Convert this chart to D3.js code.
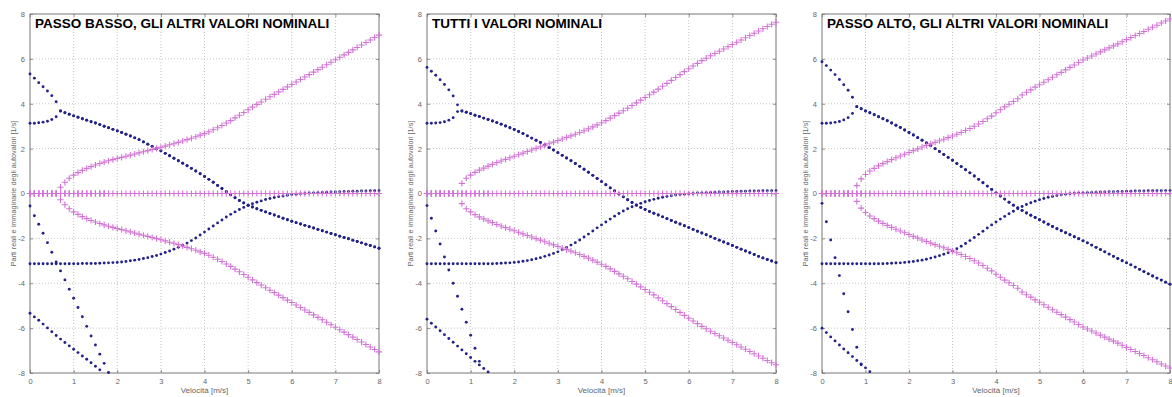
<!DOCTYPE html>
<html>
<head>
<meta charset="utf-8">
<script src="https://cdn.jsdelivr.net/npm/d3@7"></script>
<style>
  html, body { margin: 0; padding: 0; background: #fff; }
  svg { display: block; }
</style>
</head>
<body>
<svg id="chart" width="1172" height="397"></svg>
<script>
// Eigenvalues of the bicycle model vs forward speed (0.1 m/s steps)
const xTicks = [0, 1, 2, 3, 4, 5, 6, 7, 8];
const yTicks = [-8, -6, -4, -2, 0, 2, 4, 6, 8];
const xLabel = "Velocità [m/s]";
const yLabel = "Parti reali e immaginarie degli autovalori [1/s]";
const titles = [
  "PASSO BASSO, GLI ALTRI VALORI NOMINALI",
  "TUTTI I VALORI NOMINALI",
  "PASSO ALTO, GLI ALTRI VALORI NOMINALI"
];

// ---- Passo basso ----
const bassoWeaveHi = [5.33, 5.14, 4.94, 4.76, 4.57, 4.36, 4.09];
const bassoWeaveLo = [3.13, 3.13, 3.15, 3.18, 3.22, 3.30, 3.42];
const bassoWeaveStart = 0.7;
const bassoWeaveRe = [3.68, 3.60, 3.53, 3.46, 3.40, 3.33, 3.27, 3.20, 3.14, 3.07,
  3.00, 2.93, 2.86, 2.79, 2.72, 2.64, 2.56, 2.48, 2.40, 2.30,
  2.20, 2.10, 2.00, 1.90, 1.79, 1.68, 1.57, 1.46, 1.35, 1.24,
  1.12, 1.00, 0.88, 0.76, 0.63, 0.50, 0.36, 0.22, 0.08, -0.06,
  -0.19, -0.31, -0.42, -0.52, -0.60, -0.68, -0.75, -0.82, -0.89, -0.96,
  -1.03, -1.10, -1.17, -1.24, -1.30, -1.36, -1.42, -1.48, -1.54, -1.60,
  -1.66, -1.72, -1.78, -1.84, -1.90, -1.96, -2.02, -2.08, -2.14, -2.20,
  -2.26, -2.32, -2.38, -2.44];
const bassoWeaveIm = [0.28, 0.50, 0.68, 0.82, 0.93, 1.03, 1.12, 1.20, 1.27, 1.34,
  1.40, 1.46, 1.51, 1.56, 1.61, 1.66, 1.71, 1.76, 1.81, 1.86,
  1.91, 1.96, 2.01, 2.06, 2.11, 2.17, 2.22, 2.28, 2.34, 2.40,
  2.46, 2.53, 2.60, 2.67, 2.75, 2.84, 2.93, 3.03, 3.14, 3.25,
  3.37, 3.49, 3.61, 3.73, 3.85, 3.97, 4.08, 4.20, 4.31, 4.42,
  4.53, 4.64, 4.75, 4.86, 4.97, 5.08, 5.19, 5.30, 5.41, 5.52,
  5.63, 5.74, 5.85, 5.96, 6.07, 6.18, 6.29, 6.40, 6.51, 6.62,
  6.73, 6.84, 6.95, 7.06];
const bassoCapsize = [-3.13, -3.13, -3.13, -3.13, -3.13, -3.13, -3.13, -3.13, -3.13, -3.13,
  -3.13, -3.13, -3.12, -3.12, -3.12, -3.12, -3.11, -3.10, -3.09, -3.08,
  -3.07, -3.05, -3.03, -3.00, -2.97, -2.94, -2.90, -2.86, -2.81, -2.76,
  -2.70, -2.63, -2.56, -2.48, -2.40, -2.31, -2.21, -2.10, -1.98, -1.85,
  -1.72, -1.58, -1.45, -1.31, -1.18, -1.05, -0.93, -0.82, -0.71, -0.62,
  -0.54, -0.46, -0.39, -0.33, -0.27, -0.22, -0.18, -0.14, -0.11, -0.08,
  -0.05, -0.03, -0.01, 0.00, 0.02, 0.03, 0.04, 0.05, 0.06, 0.07,
  0.07, 0.08, 0.09, 0.09, 0.10, 0.10, 0.11, 0.11, 0.12, 0.12, 0.12];
const bassoCastor = [-5.34, -5.50, -5.65, -5.82, -5.99, -6.16, -6.33, -6.49, -6.64, -6.79,
  -6.94, -7.09, -7.24, -7.39, -7.54, -7.70, -7.86, -8.02];
const bassoFast = [-0.56, -0.99, -1.37, -1.77, -2.19, -2.62, -3.05, -3.45, -3.85, -4.27,
  -4.67, -5.08, -5.49, -5.92, -6.35, -6.75, -7.16, -7.57, -7.98];

// ---- Tutti i valori nominali ----
const nomWeaveHi = [5.62, 5.45, 5.27, 5.07, 4.86, 4.62, 4.35, 3.95];
const nomWeaveLo = [3.13, 3.13, 3.14, 3.16, 3.20, 3.27, 3.38, 3.65];
const nomWeaveStart = 0.8;
const nomWeaveRe = [3.68, 3.62, 3.56, 3.49, 3.43, 3.36, 3.30, 3.23, 3.16, 3.09,
  3.01, 2.93, 2.85, 2.76, 2.67, 2.57, 2.47, 2.37, 2.27, 2.16,
  2.05, 1.94, 1.82, 1.70, 1.58, 1.46, 1.34, 1.21, 1.08, 0.95,
  0.81, 0.67, 0.53, 0.39, 0.25, 0.11, -0.02, -0.15, -0.28, -0.40,
  -0.52, -0.62, -0.71, -0.80, -0.88, -0.96, -1.04, -1.12, -1.20, -1.28,
  -1.36, -1.44, -1.52, -1.60, -1.68, -1.76, -1.84, -1.92, -2.00, -2.08,
  -2.16, -2.24, -2.32, -2.40, -2.48, -2.56, -2.64, -2.72, -2.80, -2.87,
  -2.94, -3.01, -3.08];
const nomWeaveIm = [0.45, 0.68, 0.82, 0.94, 1.04, 1.13, 1.22, 1.30, 1.38, 1.45,
  1.52, 1.59, 1.66, 1.73, 1.80, 1.87, 1.94, 2.01, 2.08, 2.15,
  2.22, 2.29, 2.36, 2.43, 2.50, 2.57, 2.64, 2.72, 2.80, 2.88,
  2.97, 3.06, 3.15, 3.25, 3.36, 3.47, 3.58, 3.69, 3.80, 3.92,
  4.04, 4.16, 4.28, 4.40, 4.52, 4.65, 4.78, 4.91, 5.04, 5.17,
  5.30, 5.43, 5.56, 5.68, 5.80, 5.92, 6.03, 6.14, 6.24, 6.34,
  6.44, 6.54, 6.64, 6.74, 6.84, 6.94, 7.04, 7.14, 7.24, 7.34,
  7.44, 7.54, 7.63];
const nomCapsize = [-3.13, -3.13, -3.13, -3.13, -3.13, -3.13, -3.13, -3.13, -3.13, -3.13,
  -3.13, -3.13, -3.13, -3.13, -3.13, -3.13, -3.12, -3.11, -3.10, -3.09,
  -3.07, -3.05, -3.02, -2.99, -2.95, -2.91, -2.86, -2.80, -2.74, -2.67,
  -2.60, -2.51, -2.41, -2.30, -2.19, -2.07, -1.94, -1.81, -1.67, -1.53,
  -1.40, -1.27, -1.14, -1.01, -0.89, -0.78, -0.68, -0.59, -0.51, -0.44,
  -0.37, -0.31, -0.26, -0.21, -0.17, -0.13, -0.10, -0.07, -0.05, -0.03,
  -0.01, 0.00, 0.02, 0.03, 0.04, 0.05, 0.06, 0.07, 0.07, 0.08,
  0.09, 0.09, 0.10, 0.10, 0.11, 0.11, 0.11, 0.12, 0.12, 0.12, 0.13];
const nomCastor = [-5.60, -5.78, -5.95, -6.12, -6.29, -6.46, -6.63, -6.80, -6.97, -7.14,
  -7.31, -7.48, -7.64, -7.80, -7.95];
const nomFast = [-0.54, -1.10, -1.67, -2.25, -2.83, -3.41, -4.00, -4.58, -5.16, -5.74,
  -6.32, -6.90, -7.48, -8.06];

// ---- Passo alto ----
const altoWeaveHi = [5.87, 5.70, 5.50, 5.30, 5.08, 4.85, 4.60, 4.29];
const altoWeaveLo = [3.13, 3.13, 3.14, 3.17, 3.21, 3.28, 3.38, 3.57];
const altoWeaveStart = 0.8;
const altoWeaveRe = [3.87, 3.78, 3.68, 3.60, 3.51, 3.42, 3.33, 3.24, 3.14, 3.04,
  2.94, 2.83, 2.72, 2.61, 2.49, 2.37, 2.25, 2.13, 2.00, 1.87,
  1.74, 1.61, 1.48, 1.34, 1.20, 1.06, 0.92, 0.78, 0.63, 0.48,
  0.33, 0.18, 0.03, -0.11, -0.25, -0.39, -0.52, -0.64, -0.76, -0.87,
  -0.97, -1.07, -1.17, -1.27, -1.37, -1.47, -1.57, -1.66, -1.75, -1.84,
  -1.93, -2.02, -2.11, -2.20, -2.30, -2.40, -2.50, -2.60, -2.70, -2.80,
  -2.90, -3.00, -3.09, -3.18, -3.28, -3.38, -3.48, -3.58, -3.68, -3.77,
  -3.86, -3.95, -4.04];
const altoWeaveIm = [0.35, 0.65, 0.85, 1.00, 1.12, 1.23, 1.33, 1.42, 1.51, 1.59,
  1.67, 1.75, 1.83, 1.91, 1.99, 2.07, 2.14, 2.21, 2.28, 2.35,
  2.42, 2.49, 2.56, 2.64, 2.72, 2.81, 2.90, 3.00, 3.10, 3.21,
  3.33, 3.45, 3.60, 3.73, 3.86, 3.98, 4.10, 4.22, 4.39, 4.51,
  4.62, 4.74, 4.85, 4.96, 5.07, 5.18, 5.29, 5.40, 5.51, 5.62,
  5.73, 5.84, 5.95, 6.04, 6.13, 6.22, 6.31, 6.40, 6.49, 6.58,
  6.67, 6.76, 6.86, 6.95, 7.04, 7.13, 7.22, 7.32, 7.41, 7.50,
  7.60, 7.69, 7.78];
const altoCapsize = [-3.13, -3.13, -3.13, -3.13, -3.13, -3.13, -3.13, -3.13, -3.13, -3.13,
  -3.13, -3.13, -3.13, -3.13, -3.13, -3.12, -3.11, -3.10, -3.09, -3.07,
  -3.05, -3.03, -3.00, -2.97, -2.93, -2.88, -2.83, -2.77, -2.71, -2.64,
  -2.56, -2.46, -2.35, -2.23, -2.10, -1.96, -1.82, -1.68, -1.54, -1.40,
  -1.27, -1.14, -1.02, -0.90, -0.79, -0.68, -0.58, -0.49, -0.41, -0.34,
  -0.28, -0.22, -0.17, -0.13, -0.09, -0.06, -0.03, -0.01, 0.01, 0.02,
  0.03, 0.04, 0.05, 0.06, 0.07, 0.07, 0.08, 0.08, 0.09, 0.09,
  0.10, 0.10, 0.11, 0.11, 0.11, 0.12, 0.12, 0.12, 0.12, 0.13, 0.13];
const altoCastor = [-6.00, -6.20, -6.39, -6.57, -6.75, -6.93, -7.10, -7.27, -7.44, -7.60,
  -7.77, -7.94];
const altoFast = [-0.44, -1.26, -2.07, -2.86, -3.66, -4.47, -5.27, -6.06, -6.85, -7.63,
  -8.42];

const panels = [
  { title: titles[0], x0: 30, x1: 379, weaveHi: bassoWeaveHi, weaveLo: bassoWeaveLo,
    weaveStart: bassoWeaveStart, weaveRe: bassoWeaveRe, weaveIm: bassoWeaveIm,
    real: [bassoCapsize, bassoCastor, bassoFast] },
  { title: titles[1], x0: 427, x1: 776, weaveHi: nomWeaveHi, weaveLo: nomWeaveLo,
    weaveStart: nomWeaveStart, weaveRe: nomWeaveRe, weaveIm: nomWeaveIm,
    real: [nomCapsize, nomCastor, nomFast] },
  { title: titles[2], x0: 822, x1: 1170, weaveHi: altoWeaveHi, weaveLo: altoWeaveLo,
    weaveStart: altoWeaveStart, weaveRe: altoWeaveRe, weaveIm: altoWeaveIm,
    real: [altoCapsize, altoCastor, altoFast] }
];

const STEP = 0.1;
const plotTop = 14, plotBottom = 373;
const svg = d3.select("#chart");
const dotColor = "#22228a";
const plusColor = "#d273d6";
const axisColor = "#777";
const font = "'Liberation Sans', Arial, Helvetica, sans-serif";

// Collect every eigenvalue as {v, re, im}
function eigenvalues(p) {
  const out = [];
  const sp = i => Math.round(i) / 10;
  p.weaveHi.forEach((re, i) => out.push({ v: sp(i), re, im: 0 }));
  p.weaveLo.forEach((re, i) => out.push({ v: sp(i), re, im: 0 }));
  p.weaveRe.forEach((re, i) => {
    const v = Math.round((p.weaveStart + i * STEP) * 10) / 10;
    out.push({ v, re, im: p.weaveIm[i] });
    out.push({ v, re, im: -p.weaveIm[i] });
  });
  p.real.forEach(s => s.forEach((re, i) => out.push({ v: sp(i), re, im: 0 })));
  return out;
}

panels.forEach(p => {
  const x = d3.scaleLinear().domain([0, 8]).range([p.x0, p.x1]);
  const y = d3.scaleLinear().domain([-8, 8]).range([plotBottom, plotTop]);
  const g = svg.append("g");
  const w = p.x1 - p.x0, h = plotBottom - plotTop;

  // dotted grid
  g.append("g").selectAll("line").data(xTicks.slice(1, -1)).join("line")
    .attr("x1", d => x(d)).attr("x2", d => x(d)).attr("y1", plotTop).attr("y2", plotBottom)
    .attr("stroke", "#b8b8b8").attr("stroke-width", 0.8).attr("stroke-dasharray", "1,2");
  g.append("g").selectAll("line").data(yTicks.slice(1, -1)).join("line")
    .attr("y1", d => y(d)).attr("y2", d => y(d)).attr("x1", p.x0).attr("x2", p.x1)
    .attr("stroke", "#b8b8b8").attr("stroke-width", 0.8).attr("stroke-dasharray", "1,2");

  // axes with inward ticks
  const ax = g.append("g").attr("transform", `translate(0,${plotBottom})`)
    .call(d3.axisBottom(x).tickValues(xTicks).tickSize(-3).tickPadding(6).tickFormat(d => String(d)));
  const ay = g.append("g").attr("transform", `translate(${p.x0},0)`)
    .call(d3.axisLeft(y).tickValues(yTicks).tickSize(-3).tickPadding(5).tickFormat(d => String(d)));
  const axT = g.append("g").attr("transform", `translate(0,${plotTop})`)
    .call(d3.axisTop(x).tickValues(xTicks).tickSize(-3).tickFormat(""));
  const ayR = g.append("g").attr("transform", `translate(${p.x1},0)`)
    .call(d3.axisRight(y).tickValues(yTicks).tickSize(-3).tickFormat(""));
  [ax, ay, axT, ayR].forEach(a => {
    a.select(".domain").remove();
    a.selectAll(".tick line").attr("stroke", axisColor).attr("stroke-width", 0.8);
    a.selectAll(".tick text").attr("fill", "#666").style("font-size", "7.5px")
      .style("font-family", font);
  });
  g.append("rect").attr("x", p.x0).attr("y", plotTop).attr("width", w).attr("height", h)
    .attr("fill", "none").attr("stroke", axisColor).attr("stroke-width", 1);

  // labels
  g.append("text").attr("x", (p.x0 + p.x1) / 2).attr("y", 393)
    .attr("text-anchor", "middle").attr("fill", "#666")
    .style("font-size", "8px").style("font-family", font).text(xLabel);
  g.append("text")
    .attr("transform", `translate(${p.x0 - 14},${(plotTop + plotBottom) / 2}) rotate(-90)`)
    .attr("text-anchor", "middle").attr("fill", "#666")
    .style("font-size", "7.3px").style("font-family", font).text(yLabel);

  const ev = eigenvalues(p);
  const inside = d => d >= -8 && d <= 8;

  // real parts: dots
  g.append("g").selectAll("circle").data(ev.filter(d => inside(d.re))).join("circle")
    .attr("cx", d => x(d.v)).attr("cy", d => y(d.re)).attr("r", 1.45)
    .attr("fill", dotColor);

  // imaginary parts: plus markers
  g.append("g").selectAll("path").data(ev.filter(d => inside(d.im))).join("path")
    .attr("transform", d => `translate(${x(d.v)},${y(d.im)})`)
    .attr("d", "M-3.1,0H3.1M0,-3.1V3.1")
    .attr("stroke", plusColor).attr("stroke-width", 1.1).attr("fill", "none");

  // title
  g.append("text").attr("x", p.x0 + 5).attr("y", 28)
    .attr("fill", "#000").style("font-weight", "bold")
    .style("font-size", "13.5px").style("font-family", font).text(p.title);
});
</script>
</body>
</html>
